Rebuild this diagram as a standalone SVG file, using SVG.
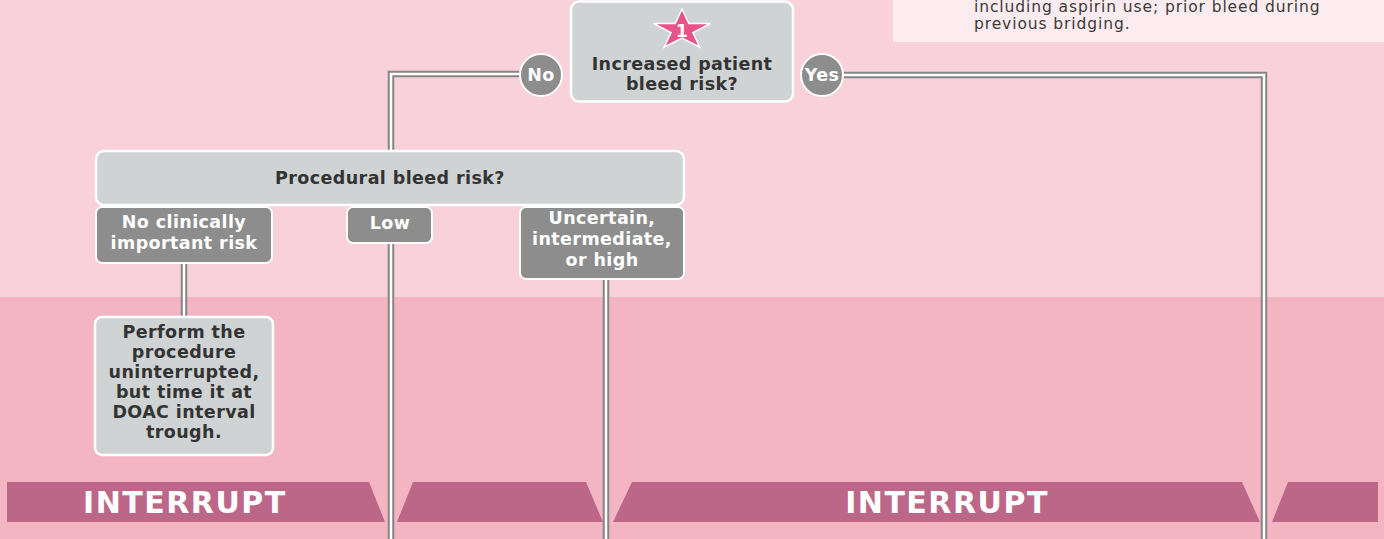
<svg xmlns="http://www.w3.org/2000/svg" width="1384" height="539" viewBox="0 0 1384 539">
<style>
.t{font-family:"DejaVu Sans","Liberation Sans",sans-serif;font-weight:bold;font-size:17.5px;letter-spacing:0.4px;text-anchor:middle}
.dk{fill:#333333}
.wh{fill:#ffffff}
.lite{fill:#cfd3d3;stroke:#ffffff;stroke-width:2.5}
.dark{fill:#8d8d8d;stroke:#ffffff;stroke-width:2}
.band{fill:#bd6788}
.cg{fill:none;stroke:#858585;stroke-width:6.5}
.cw{fill:none;stroke:#ffffff;stroke-width:2.5}
.big{font-family:"DejaVu Sans","Liberation Sans",sans-serif;font-weight:bold;font-size:30px;letter-spacing:1.5px;fill:#ffffff}
.info{font-family:"DejaVu Sans","Liberation Sans",sans-serif;font-size:15.5px;letter-spacing:0.9px;fill:#3a3a3a}
</style>
<rect x="0" y="0" width="1384" height="297" fill="#f9d1db"/>
<rect x="0" y="297" width="1384" height="242" fill="#f4b5c3"/>

<g id="info">
<rect x="893" y="-2" width="493" height="44" fill="#fcecef"/>
<text class="info" x="974" y="11.5">including aspirin use; prior bleed during</text>
<text class="info" x="974" y="29">previous bridging.</text>
</g>

<g id="bands">
<polygon class="band" points="7,482 369,482 385,522 7,522"/>
<polygon class="band" points="413,482 586,482 603,522 397,522"/>
<polygon class="band" points="632,482 1242,482 1260,522 613,522"/>
<polygon class="band" points="1288,482 1378,482 1378,522 1272,522"/>
<text class="big" x="83" y="513">INTERRUPT</text>
<text class="big" x="947" y="513" text-anchor="middle">INTERRUPT</text>
</g>

<g id="connectors">
<path class="cg" d="M520,74 H391 V539"/>
<path class="cw" d="M520,74 H391 V539"/>
<path class="cg" d="M843,75 H1264 V539"/>
<path class="cw" d="M843,75 H1264 V539"/>
<path class="cg" d="M184,262 V318"/>
<path class="cw" d="M184,262 V318"/>
<path class="cg" d="M606,278 V539"/>
<path class="cw" d="M606,278 V539"/>
</g>

<g id="q1">
<rect class="lite" x="571" y="1.5" width="222" height="100" rx="8"/>
<polygon transform="translate(682,30) scale(1.43,1)" vector-effect="non-scaling-stroke" fill="#e8528a" stroke="#ffffff" stroke-width="1.5" points="0,-21 4.72,-6.5 19.97,-6.49 7.64,2.48 12.34,16.99 0,8.03 -12.34,16.99 -7.64,2.48 -19.97,-6.49 -4.72,-6.5"/>
<text class="t wh" x="682" y="37" font-size="14" letter-spacing="0">1</text>
<text class="t dk" x="682" y="70">Increased patient</text>
<text class="t dk" x="682" y="90">bleed risk?</text>
</g>

<g id="no">
<circle class="dark" cx="541" cy="75" r="21"/>
<text class="t wh" x="541" y="81" font-size="16" letter-spacing="0">No</text>
</g>

<g id="yes">
<circle class="dark" cx="822" cy="75" r="21"/>
<text class="t wh" x="822" y="81" font-size="16" letter-spacing="0">Yes</text>
</g>

<g id="q2">
<rect class="lite" x="96" y="151" width="588" height="54" rx="8"/>
<text class="t dk" x="390" y="184">Procedural bleed risk?</text>
</g>

<g id="noRisk">
<rect class="dark" x="96" y="207" width="176" height="56" rx="6"/>
<text class="t wh" x="184" y="228">No clinically</text>
<text class="t wh" x="184" y="249">important risk</text>
</g>

<g id="low">
<rect class="dark" x="347" y="207" width="85" height="36" rx="6"/>
<text class="t wh" x="390" y="229">Low</text>
</g>

<g id="uncertain">
<rect class="dark" x="520" y="207" width="164" height="72" rx="6"/>
<text class="t wh" x="602" y="224">Uncertain,</text>
<text class="t wh" x="602" y="245">intermediate,</text>
<text class="t wh" x="602" y="266">or high</text>
</g>

<g id="perform">
<rect class="lite" x="95" y="317" width="178" height="138" rx="7"/>
<text class="t dk" x="184" y="338">Perform the</text>
<text class="t dk" x="184" y="358">procedure</text>
<text class="t dk" x="184" y="378">uninterrupted,</text>
<text class="t dk" x="184" y="398">but time it at</text>
<text class="t dk" x="184" y="418">DOAC interval</text>
<text class="t dk" x="184" y="438">trough.</text>
</g>
</svg>
